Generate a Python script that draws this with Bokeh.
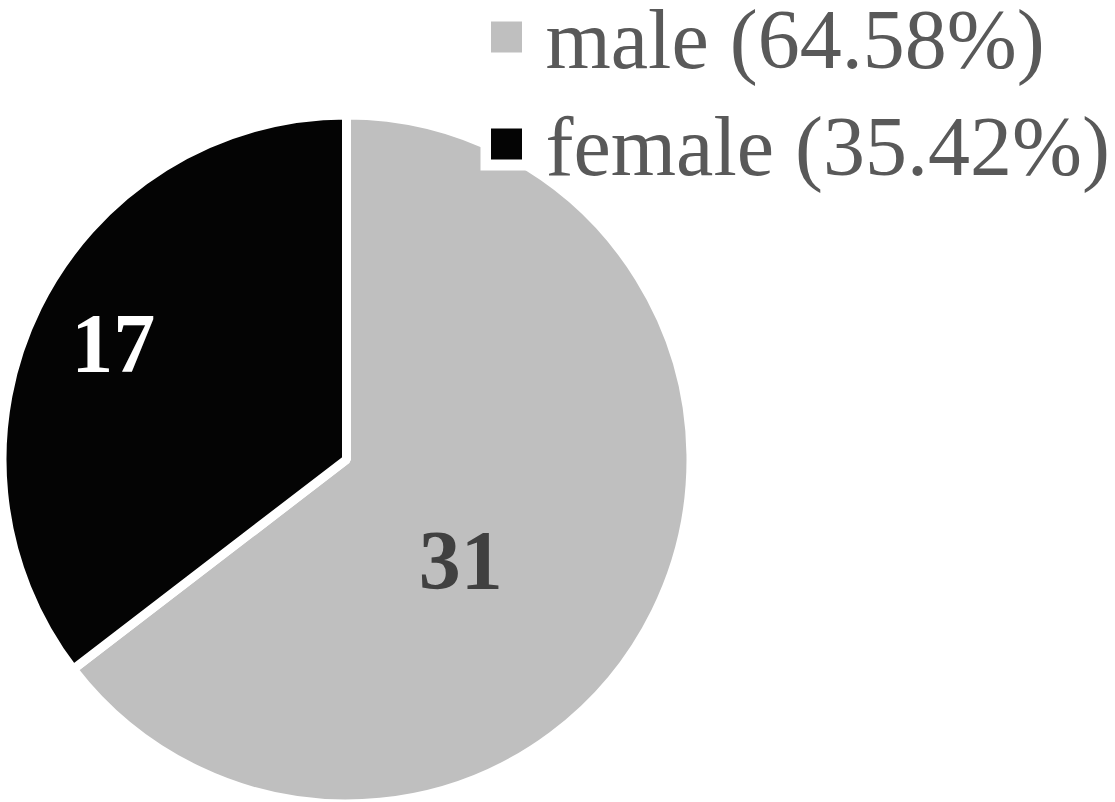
import math
from bokeh.plotting import figure
from bokeh.models import Range1d, ColumnDataSource
from bokeh.core.properties import value
from bokeh.embed import file_html
from bokeh.resources import INLINE

# ---- data ----
categories = ["male", "female"]
counts = [31, 17]
colors = ["#bfbfbf", "#040404"]
label_colors = ["#404040", "#ffffff"]
legend_labels = ["male (64.58%)", "female (35.42%)"]

# ---- layout (pixel space of the figure) ----
W, H = 1115, 802
cx, cy = 346, 343          # pie centre
R = 344.5                  # wedge radius (white stroke eats part of it)
label_r = [0.45, 0.765]    # label radius as fraction of the visible radius
label_shift = [-15.5, 0.0] # degrees, moves the label off the slice middle

p = figure(width=W, height=H, x_range=Range1d(0, W), y_range=Range1d(0, H),
           output_backend="svg", toolbar_location=None, min_border=0)
p.axis.visible = False
p.grid.visible = False
p.outline_line_color = None
p.background_fill_color = "white"
p.border_fill_color = "white"

# slices: female first counter-clockwise from 12 o'clock, male fills the rest
total = sum(counts)
order = [1, 0]
start = math.pi / 2
starts, ends, mids = {}, {}, {}
for i in order:
    a = 2 * math.pi * counts[i] / total
    starts[i], ends[i] = start, start + a
    mids[i] = start + a / 2
    start += a

src = ColumnDataSource(dict(
    x=[cx] * len(categories), y=[cy] * len(categories),
    start=[starts[i] for i in range(len(categories))],
    end=[ends[i] for i in range(len(categories))],
    color=colors))
p.wedge(x="x", y="y", radius=R, start_angle="start", end_angle="end",
        fill_color="color", line_color="white", line_width=9, source=src)

# slice labels
Rv = R - 4.5
lx, ly = [], []
for i in range(len(categories)):
    ang = mids[i] + math.radians(label_shift[i])
    lx.append(cx + label_r[i] * Rv * math.cos(ang))
    ly.append(cy + label_r[i] * Rv * math.sin(ang))
p.text(x=lx, y=ly, text=[str(c) for c in counts], text_color=label_colors,
       text_font=value("Liberation Serif"), text_font_style="bold",
       text_font_size="84px", text_align="center", text_baseline="middle")

# legend (white panel over the pie, square markers, serif labels)
p.quad(left=[480], right=[W], bottom=[632], top=[H], fill_color="white", line_color=None)
item_y = [765.5 - 107 * k for k in range(len(categories))]
p.rect(x=[506] * len(categories), y=item_y, width=31, height=31,
       fill_color=colors, line_color=None)
p.text(x=[545] * len(categories), y=[y - 2 for y in item_y], text=legend_labels,
       text_color="#595959", text_font=value("Liberation Serif"),
       text_font_size="84px", text_align="left", text_baseline="alphabetic")

open("out.html", "w").write(file_html(p, INLINE))
